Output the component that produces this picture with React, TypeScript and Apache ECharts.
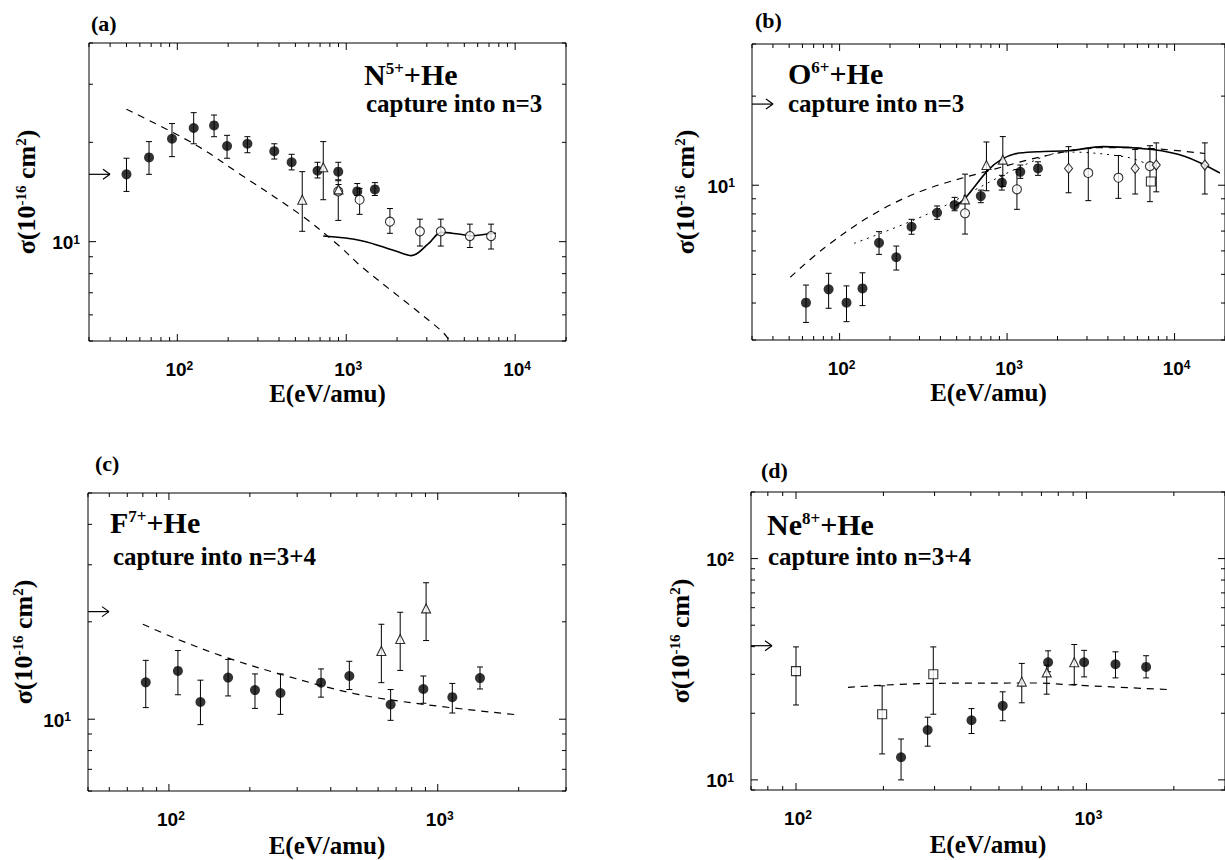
import React, { useEffect, useRef } from 'react';
import * as echarts from 'echarts';

const SERIF = "'Liberation Serif', 'Times New Roman', Times, serif";
const SANS = "'Liberation Sans', Arial, Helvetica, sans-serif";

// ---------- Panel (a) N5+ + He ----------
const aXRange = [30, 20000];
const aYRange = [5, 40];
const aFilled = [
  [50, 16.0, 14.2, 17.9], [68, 18.0, 16.0, 20.1], [93, 20.5, 18.1, 22.8], [125, 22.1, 19.8, 24.6],
  [165, 22.5, 20.8, 24.2], [197, 19.5, 17.9, 21.0], [260, 19.8, 18.6, 20.8], [375, 18.8, 17.8, 19.8],
  [475, 17.4, 16.5, 18.4], [676, 16.4, 15.6, 17.4], [897, 16.3, 15.4, 17.4], [1162, 14.2, 13.8, 15.0],
  [1478, 14.4, 13.8, 15.1],
];
const aOpen = [
  [897, 14.2, 11.6, 15.3], [1200, 13.4, 12.1, 14.5], [1814, 11.5, 10.6, 12.6], [2730, 10.75, 9.7, 11.7],
  [3630, 10.75, 9.7, 11.7], [5395, 10.4, 9.6, 11.3], [7200, 10.4, 9.5, 11.3],
];
const aTri = [[549, 13.4, 10.75, 16.3], [731, 16.8, 13.4, 20.1], [900, 14.4, 13.9, 14.9]];
const aDashed = [[50, 25.2], [125, 19.8], [240, 15.9], [544, 12.0], [910, 9.7], [1232, 8.4], [3660, 5.37], [4100, 5.0]];
const aSolid = [[731, 10.4], [1232, 10.07], [1940, 9.39], [2434, 9.07], [3055, 9.84], [3660, 10.67], [4600, 10.55], [5510, 10.42], [6920, 10.55], [7700, 10.6]];

// ---------- Panel (b) O6+ + He ----------
const bXRange = [30, 20000];
const bYRange = [3, 30];
const bFilled = [
  [63, 4.01, 3.44, 4.6], [86, 4.45, 3.84, 5.04], [110, 4.01, 3.46, 4.57], [137, 4.48, 3.92, 5.06],
  [172, 6.39, 5.84, 6.97], [218, 5.71, 5.17, 6.23], [269, 7.24, 6.83, 7.67], [382, 8.07, 7.67, 8.51],
  [486, 8.57, 8.2, 9.1], [697, 9.19, 8.73, 9.63], [931, 10.2, 9.63, 10.8], [1199, 11.1, 10.55, 11.7],
  [1530, 11.4, 10.8, 12.0],
];
const bOpen = [[561, 8.04, 6.84, 10.9], [1145, 9.69, 8.29, 11.3], [3053, 11.0, 8.87, 13.3], [4620, 10.6, 9.03, 12.6], [7128, 11.6, 8.8, 13.6]];
const bDiamond = [[2328, 11.4, 9.43, 13.5], [5818, 11.4, 9.34, 13.2], [7775, 11.7, 9.5, 13.9], [15160, 11.7, 9.34, 13.9]];
const bSquare = [[7220, 10.3, 10.3, 10.3]];
const bTri = [[561, 8.96, 8.96, 8.96], [753, 11.7, 9.58, 14.0], [943, 12.2, 9.9, 14.6]];
const bDashed = [[50.8, 4.89], [80.5, 6.12], [158.5, 7.97], [312, 9.58], [736, 11.1], [1900, 12.75], [3741, 13.4], [7362, 13.3], [15160, 12.8]];
const bSolid = [[490, 8.51], [561, 9.03], [770, 11.25], [922, 12.2], [1105, 12.75], [1514, 12.97], [2377, 13.1], [3741, 13.5], [7362, 13.2], [11560, 12.5], [18640, 11.0]];
const bDotted = [[122, 6.36], [342, 8.03], [1188, 11.5], [2280, 12.95], [5140, 12.45], [7110, 11.7]];

// ---------- Panel (c) F7+ + He ----------
const cXRange = [50, 3000];
const cYRange = [6, 50];
const cFilled = [
  [82, 13.0, 10.86, 15.2], [108, 14.1, 11.9, 16.3], [131, 11.3, 9.62, 13.2], [166, 13.45, 11.8, 15.3],
  [209, 12.3, 10.8, 13.8], [260, 12.05, 10.35, 13.8], [368, 12.97, 11.7, 14.3], [469, 13.6, 12.35, 15.1],
  [668, 11.1, 9.92, 12.35], [884, 12.4, 11.2, 13.6], [1133, 11.7, 10.45, 12.9], [1436, 13.4, 12.4, 14.5],
];
const cTri = [[617, 16.25, 12.97, 19.65], [725, 17.7, 14.15, 21.4], [905, 22.0, 17.5, 26.4]];
const cDashed = [[80, 19.65], [107, 17.7], [164, 15.5], [266, 13.7], [489, 12.0], [897, 11.1], [1946, 10.33]];

// ---------- Panel (d) Ne8+ + He ----------
const dXRange = [70, 3000];
const dYRange = [9, 200];
const dFilled = [
  [230, 12.65, 10.0, 15.3], [284, 16.8, 14.2, 19.2], [402, 18.6, 16.2, 21.0], [515, 21.6, 18.5, 25.0],
  [738, 34.0, 30.8, 38.3], [982, 34.0, 29.2, 38.5], [1259, 33.3, 28.9, 37.9], [1605, 32.4, 28.9, 36.4],
];
const dTri = [[599, 27.8, 22.3, 33.6], [730, 30.6, 24.4, 33.0], [908, 34.0, 27.0, 40.9]];
const dSquare = [[100, 31.0, 21.8, 39.9], [198, 19.8, 13.1, 26.6], [297, 30.0, 19.8, 39.9]];
const dDashed = [[151, 26.2], [290, 27.3], [671, 27.4], [916, 26.8], [1905, 25.6]];

// arrows (reference levels) per panel
const arrowLevels = [16.0, 18.8, 21.5, 40.4];

const panelLabels = ['(a)', '(b)', '(c)', '(d)'];
const titleIons = [['N', '5+'], ['O', '6+'], ['F', '7+'], ['Ne', '8+']];
const captureTexts = ['capture into n=3', 'capture into n=3', 'capture into n=3+4', 'capture into n=3+4'];
const xName = 'E(eV/amu)';

const panels = [
  { xr: aXRange, yr: aYRange, filled: aFilled, open: aOpen, tri: aTri, diamond: [], square: [], dashed: aDashed, solid: aSolid, dotted: [] },
  { xr: bXRange, yr: bYRange, filled: bFilled, open: bOpen, tri: bTri, diamond: bDiamond, square: bSquare, dashed: bDashed, solid: bSolid, dotted: bDotted },
  { xr: cXRange, yr: cYRange, filled: cFilled, open: [], tri: cTri, diamond: [], square: [], dashed: cDashed, solid: [], dotted: [] },
  { xr: dXRange, yr: dYRange, filled: dFilled, open: [], tri: dTri, diamond: [], square: dSquare, dashed: dDashed, solid: [], dotted: [] },
];

const layout = [
  { grid: { left: 89, top: 43, width: 477, height: 298 }, xGap: 40, yGap: 50, yLabOff: 9, label: [91, 23], title: [364, 74], cap: [366, 103] },
  { grid: { left: 752, top: 44, width: 477, height: 296 }, xGap: 40, yGap: 54, yLabOff: 17, label: [755, 20], title: [788, 73], cap: [788, 103] },
  { grid: { left: 88, top: 493, width: 478, height: 298 }, xGap: 42, yGap: 52, yLabOff: 17, label: [95, 463], title: [110, 522], cap: [113, 556] },
  { grid: { left: 751, top: 492, width: 479, height: 298 }, xGap: 42, yGap: 58, yLabOff: 17, label: [761, 470], title: [767, 524], cap: [768, 556] },
];

function logTicks(min: number, max: number) {
  const out: [number, boolean][] = [];
  for (let e = Math.floor(Math.log10(min)); e <= Math.ceil(Math.log10(max)); e++) {
    for (let k = 1; k <= 9; k++) {
      const v = k * Math.pow(10, e);
      if (v >= min * 0.9999 && v <= max * 1.0001) out.push([v, k === 1]);
    }
  }
  return out;
}

const tickRich = {
  b: { fontFamily: SANS, fontWeight: 'bold', fontSize: 19, fill: '#000', lineHeight: 18 },
  s: { fontFamily: SANS, fontWeight: 'bold', fontSize: 12, fill: '#000', verticalAlign: 'top', lineHeight: 12 },
};
const nameRich = {
  n: { fontFamily: SERIF, fontWeight: 'bold', fontSize: 26, color: '#000' },
  s: { fontFamily: SERIF, fontWeight: 'bold', fontSize: 15, color: '#000', verticalAlign: 'top' },
};

const ST = { stroke: '#000', lineWidth: 1 };

function powText(v: number) {
  return `{b|10}{s|${Math.round(Math.log10(v))}}`;
}

function buildOption() {
  const grid = layout.map((l) => ({ ...l.grid, show: true, borderColor: '#000', borderWidth: 1, backgroundColor: 'transparent' }));
  const xAxis = panels.map((p, i) => ({
    type: 'log', logBase: 10, gridIndex: i, min: p.xr[0], max: p.xr[1],
    axisLine: { show: false }, axisTick: { show: false }, splitLine: { show: false }, axisLabel: { show: false },
    name: xName, nameLocation: 'middle', nameGap: layout[i].xGap,
    nameTextStyle: { fontFamily: SERIF, fontWeight: 'bold', fontSize: 25, color: '#000' },
  }));
  const yAxis = panels.map((p, i) => ({
    type: 'log', logBase: 10, gridIndex: i, min: p.yr[0], max: p.yr[1],
    axisLine: { show: false }, axisTick: { show: false }, splitLine: { show: false }, axisLabel: { show: false },
    name: '{n|σ(10}{s|-16}{n| cm}{s|2}{n|)}', nameLocation: 'middle', nameGap: layout[i].yGap, nameRotate: 90,
    nameTextStyle: { fontFamily: SERIF, fontWeight: 'bold', fontSize: 26, color: '#000', rich: nameRich },
  }));

  const series: any[] = [];
  panels.forEach((p, i) => {
    const xt = logTicks(p.xr[0], p.xr[1]);
    const yt = logTicks(p.yr[0], p.yr[1]);
    const [x0, x1] = p.xr;
    const [y0, y1] = p.yr;
    const yOff = layout[i].yLabOff;
    series.push({
      type: 'custom', xAxisIndex: i, yAxisIndex: i, clip: false, silent: true, z: 5,
      data: [[x0, y0]],
      renderItem: (_params: any, api: any) => {
        const children: any[] = [];
        xt.forEach(([v, major]) => {
          const L = major ? 7 : 4;
          const b = api.coord([v, y0]);
          const t = api.coord([v, y1]);
          children.push({ type: 'line', shape: { x1: b[0], y1: b[1], x2: b[0], y2: b[1] - L }, style: ST });
          children.push({ type: 'line', shape: { x1: t[0], y1: t[1], x2: t[0], y2: t[1] + L }, style: ST });
          if (major) {
            children.push({ type: 'text', x: b[0] + 2, y: b[1] + 28, style: { text: powText(v), rich: tickRich, align: 'center', verticalAlign: 'middle' } });
          }
        });
        yt.forEach(([v, major]) => {
          const L = major ? 7 : 4;
          const l = api.coord([x0, v]);
          const r = api.coord([x1, v]);
          children.push({ type: 'line', shape: { x1: l[0], y1: l[1], x2: l[0] + L, y2: l[1] }, style: ST });
          children.push({ type: 'line', shape: { x1: r[0], y1: r[1], x2: r[0] - L, y2: r[1] }, style: ST });
          if (major) {
            children.push({ type: 'text', x: l[0] - yOff, y: l[1] + 1, style: { text: powText(v), rich: tickRich, align: 'right', verticalAlign: 'middle' } });
          }
        });
        return { type: 'group', children };
      },
    });
    // reference arrow
    series.push({
      type: 'custom', xAxisIndex: i, yAxisIndex: i, clip: false, silent: true, z: 5,
      data: [[x0, arrowLevels[i]]],
      renderItem: (_params: any, api: any) => {
        const pt = api.coord([api.value(0), api.value(1)]);
        const tip = pt[0] + 21;
        return {
          type: 'group', children: [
            { type: 'line', shape: { x1: pt[0], y1: pt[1], x2: tip, y2: pt[1] }, style: { stroke: '#000', lineWidth: 1.2 } },
            { type: 'line', shape: { x1: tip - 7, y1: pt[1] - 5, x2: tip, y2: pt[1] }, style: { stroke: '#000', lineWidth: 1.2 } },
            { type: 'line', shape: { x1: tip - 7, y1: pt[1] + 5, x2: tip, y2: pt[1] }, style: { stroke: '#000', lineWidth: 1.2 } },
          ],
        };
      },
    });
    if (p.dashed.length) series.push({ type: 'line', xAxisIndex: i, yAxisIndex: i, data: p.dashed, smooth: 0.35, showSymbol: false, silent: true, z: 2, lineStyle: { color: '#000', width: 1.2, type: [7, 6] } });
    if (p.solid.length) series.push({ type: 'line', xAxisIndex: i, yAxisIndex: i, data: p.solid, smooth: 0.35, showSymbol: false, silent: true, z: 2, lineStyle: { color: '#000', width: 1.6, type: 'solid' } });
    if (p.dotted.length) series.push({ type: 'line', xAxisIndex: i, yAxisIndex: i, data: p.dotted, smooth: 0.35, showSymbol: false, silent: true, z: 2, lineStyle: { color: '#000', width: 1, type: [2, 5] } });
    const all = [...p.filled, ...p.open, ...p.tri, ...p.diamond, ...p.square];
    series.push({
      type: 'custom', xAxisIndex: i, yAxisIndex: i, clip: false, silent: true, z: 3,
      encode: { x: 0, y: 1 },
      data: all,
      renderItem: (_params: any, api: any) => {
        const x = api.value(0), lo = api.value(2), hi = api.value(3);
        if (!(hi > lo)) return { type: 'group', children: [] };
        const t = api.coord([x, hi]);
        const b = api.coord([x, lo]);
        const c = 3;
        return {
          type: 'group', children: [
            { type: 'line', shape: { x1: t[0], y1: t[1], x2: b[0], y2: b[1] }, style: ST },
            { type: 'line', shape: { x1: t[0] - c, y1: t[1], x2: t[0] + c, y2: t[1] }, style: ST },
            { type: 'line', shape: { x1: b[0] - c, y1: b[1], x2: b[0] + c, y2: b[1] }, style: ST },
          ],
        };
      },
    });
    const openStyle = { color: '#fff', borderColor: '#000', borderWidth: 1.1 };
    if (p.filled.length) series.push({ type: 'scatter', xAxisIndex: i, yAxisIndex: i, data: p.filled, symbol: 'circle', symbolSize: 10, z: 4, silent: true, itemStyle: { color: '#000' } });
    if (p.open.length) series.push({ type: 'scatter', xAxisIndex: i, yAxisIndex: i, data: p.open, symbol: 'circle', symbolSize: 9, z: 4, silent: true, itemStyle: openStyle });
    if (p.tri.length) series.push({ type: 'scatter', xAxisIndex: i, yAxisIndex: i, data: p.tri, symbol: 'triangle', symbolSize: 9, z: 4, silent: true, itemStyle: openStyle });
    if (p.diamond.length) series.push({ type: 'scatter', xAxisIndex: i, yAxisIndex: i, data: p.diamond, symbol: 'diamond', symbolSize: [8, 10], z: 4, silent: true, itemStyle: openStyle });
    if (p.square.length) series.push({ type: 'scatter', xAxisIndex: i, yAxisIndex: i, data: p.square, symbol: 'rect', symbolSize: 9, z: 4, silent: true, itemStyle: openStyle });
  });

  const graphic: any[] = [];
  layout.forEach((l, i) => {
    graphic.push({
      type: 'text', x: l.label[0], y: l.label[1], silent: true,
      style: { text: panelLabels[i], fill: '#000', font: `bold 22px ${SERIF}`, align: 'left', verticalAlign: 'middle' },
    });
    graphic.push({
      type: 'text', x: l.title[0], y: l.title[1], silent: true,
      style: {
        text: `{n|${titleIons[i][0]}}{s|${titleIons[i][1]}}{n|+He}`,
        align: 'left', verticalAlign: 'middle',
        rich: {
          n: { fontFamily: SERIF, fontSize: 30, fontWeight: 'bold', fill: '#000', color: '#000', lineHeight: 28 },
          s: { fontFamily: SERIF, fontSize: 17, fontWeight: 'bold', fill: '#000', color: '#000', verticalAlign: 'top', lineHeight: 17 },
        },
      },
    });
    graphic.push({
      type: 'text', x: l.cap[0], y: l.cap[1], silent: true,
      style: { text: captureTexts[i], fill: '#000', font: `bold 25px ${SERIF}`, align: 'left', verticalAlign: 'middle' },
    });
  });

  return { animation: false, backgroundColor: '#fff', grid, xAxis, yAxis, series, graphic };
}

export default function App() {
  const ref = useRef<HTMLDivElement>(null);
  useEffect(() => {
    const chart = echarts.init(ref.current as HTMLDivElement, null, { renderer: 'svg' });
    chart.setOption(buildOption() as any);
    return () => chart.dispose();
  }, []);
  return <div ref={ref} style={{ position: 'absolute', left: 0, top: 0, width: 1225, height: 860, background: '#fff' }} />;
}
